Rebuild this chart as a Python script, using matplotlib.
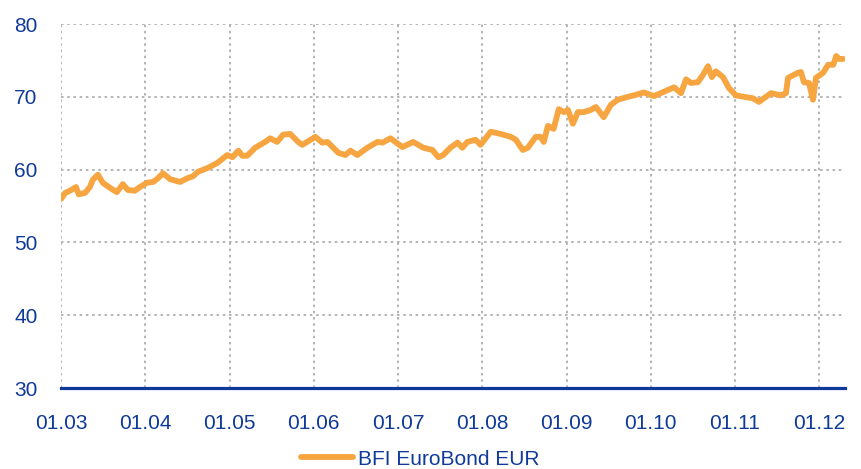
import numpy as np
import matplotlib
matplotlib.use("Agg")
import matplotlib.pyplot as plt
import matplotlib.dates as mdates

plt.rcParams['font.family'] = ['Liberation Sans', 'DejaVu Sans']

# BFI EuroBond EUR
dates = [
    "2003-01-02", "2003-01-19", "2003-02-09", "2003-03-07", "2003-03-19", "2003-04-15",
    "2003-05-06", "2003-05-19", "2003-06-10", "2003-07-01", "2003-08-01", "2003-08-31",
    "2003-09-26", "2003-10-18", "2003-11-17", "2003-12-09", "2004-01-09", "2004-02-04",
    "2004-02-25", "2004-03-18", "2004-04-17", "2004-05-31", "2004-07-01", "2004-07-27",
    "2004-08-17", "2004-09-26", "2004-11-08", "2004-12-22", "2005-01-13", "2005-02-08",
    "2005-02-25", "2005-03-18", "2005-04-22", "2005-06-04", "2005-06-26", "2005-07-26",
    "2005-08-21", "2005-09-21", "2005-10-25", "2005-11-12", "2006-01-08", "2006-02-07",
    "2006-03-01", "2006-04-18", "2006-05-18", "2006-06-09", "2006-07-09", "2006-08-21",
    "2006-10-04", "2006-10-26", "2006-11-29", "2007-01-20", "2007-03-08", "2007-04-21",
    "2007-05-30", "2007-06-25", "2007-07-16", "2007-08-16", "2007-09-16", "2007-10-07",
    "2007-10-29", "2007-12-03", "2007-12-25", "2008-02-07", "2008-03-21", "2008-05-04",
    "2008-05-26", "2008-06-25", "2008-07-17", "2008-08-20", "2008-09-10", "2008-09-24",
    "2008-10-12", "2008-11-06", "2008-11-28", "2008-12-20", "2009-01-07", "2009-01-28",
    "2009-02-19", "2009-03-17", "2009-04-16", "2009-05-08", "2009-06-11", "2009-07-12",
    "2009-08-11", "2009-09-24", "2009-10-20", "2009-12-02", "2010-01-15", "2010-02-27",
    "2010-04-12", "2010-05-12", "2010-06-03", "2010-06-24", "2010-07-24", "2010-08-15",
    "2010-09-06", "2010-09-23", "2010-10-10", "2010-11-10", "2010-12-06", "2011-01-05",
    "2011-02-09", "2011-03-20", "2011-04-15", "2011-06-06", "2011-07-19", "2011-08-10",
    "2011-08-19", "2011-10-01", "2011-10-14", "2011-10-27", "2011-11-18", "2011-12-05",
    "2011-12-18", "2012-01-18", "2012-02-09", "2012-03-02", "2012-03-15", "2012-03-28",
    "2012-04-14",
]
values = [
    56.0, 56.8, 57.1, 57.6, 56.6, 56.8,
    57.6, 58.6, 59.3, 58.2, 57.5, 56.9,
    58.0, 57.2, 57.1, 57.6, 58.2, 58.3,
    58.8, 59.5, 58.7, 58.3, 58.8, 59.1,
    59.7, 60.2, 60.9, 62.0, 61.7, 62.6,
    61.9, 61.9, 63.0, 63.8, 64.3, 63.8,
    64.8, 64.9, 63.8, 63.4, 64.5, 63.7,
    63.8, 62.3, 62.0, 62.6, 62.0, 63.0,
    63.8, 63.7, 64.3, 63.1, 63.8, 63.0,
    62.7, 61.7, 62.0, 63.0, 63.7, 63.0,
    63.8, 64.1, 63.4, 65.2, 64.9, 64.5,
    64.1, 62.7, 63.0, 64.5, 64.5, 63.8,
    66.0, 65.6, 68.3, 67.9, 68.2, 66.3,
    67.9, 67.9, 68.2, 68.6, 67.2, 68.9,
    69.6, 70.0, 70.2, 70.6, 70.1, 70.7,
    71.3, 70.5, 72.4, 71.9, 72.0, 73.0,
    74.2, 72.7, 73.5, 72.7, 71.2, 70.2,
    70.0, 69.8, 69.3, 70.5, 70.2, 70.5,
    72.6, 73.3, 73.4, 72.0, 71.9, 69.6,
    72.6, 73.3, 74.4, 74.4, 75.6, 75.2,
    75.2,
]
series_name = "BFI EuroBond EUR"
year_ticks = [str(y) + "-01-01" for y in range(2003, 2013)]

blue = '#0f3a99'
orange = '#f6a540'

x = np.array(dates, dtype='datetime64[D]')
ticks = np.array(year_ticks, dtype='datetime64[D]')

fig = plt.figure(figsize=(8.61, 4.69), dpi=100)
ax = fig.add_axes([61 / 861, 1 - 388 / 469, 784 / 861, 364 / 469])

ax.plot(x, values, color=orange, lw=4.2, solid_capstyle='round',
        solid_joinstyle='round', label=series_name, zorder=3)

ax.set_ylim(30, 80)
ax.set_yticks([30, 40, 50, 60, 70, 80])
ax.set_xlim(np.datetime64('2003-01-01'), np.datetime64('2012-04-22'))
ax.set_xticks(ticks)
ax.xaxis.set_major_formatter(mdates.DateFormatter('%m.%y'))

ax.grid(True, color='#b4b4b4', linestyle=(0, (1.3, 1.9)), linewidth=1.4)
for s in ['top', 'right', 'left']:
    ax.spines[s].set_visible(False)
ax.spines['bottom'].set_color(blue)
ax.spines['bottom'].set_linewidth(2.3)
ax.spines['bottom'].set_zorder(4)

ax.tick_params(length=0, labelsize=15, labelcolor=blue)
ax.tick_params(axis='y', pad=17)
ax.tick_params(axis='x', pad=19)

fig.legend(loc='center', bbox_to_anchor=(420 / 861, 1 - 459 / 469), frameon=False,
           fontsize=15, labelcolor=blue, handlelength=2.5, handletextpad=0.25,
           borderpad=0, borderaxespad=0)

fig.savefig('out.png', dpi=100)
